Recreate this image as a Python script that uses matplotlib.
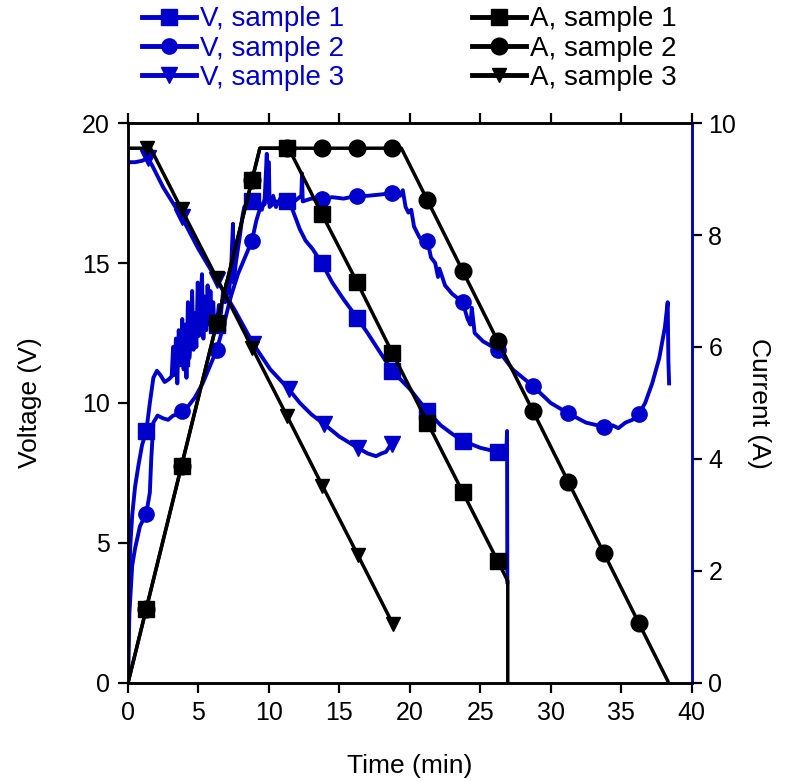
import matplotlib
matplotlib.use('Agg')
import matplotlib.pyplot as plt

plt.rcParams['font.family'] = ['Liberation Sans', 'DejaVu Sans']

BLUE = '#0000cd'

# voltage, sample 1 (squares)
v1_t = [0.0, 0.05, 0.15, 0.3, 0.5, 0.75, 1.0, 1.3, 1.55, 1.8, 2.05, 2.3, 2.6, 2.9, 3.1,
        3.2, 3.3, 3.4, 3.5, 3.6, 3.75, 3.85, 3.95, 4.05, 4.15, 4.25, 4.35, 4.45, 4.55,
        4.65, 4.75, 4.85, 4.95, 5.05, 5.15, 5.25, 5.35, 5.45, 5.55, 5.65, 5.75, 5.85,
        5.95, 6.05, 6.15, 6.3, 6.45, 6.6, 6.75, 6.9, 7.0, 7.15, 7.3, 7.45, 7.5, 7.65,
        7.8, 7.95, 8.1, 8.25, 8.4, 8.6, 8.8, 9.0, 9.3, 9.5, 9.7, 9.85, 9.9, 10.1, 10.3,
        10.5, 10.8, 11.0, 11.3, 11.6, 11.9, 12.2, 12.6, 13.1, 13.75, 14.5, 15.3, 16.25,
        17.0, 17.9, 18.75, 20.0, 21.25, 22.2, 23.0, 23.75, 25.0, 26.25, 26.85, 26.9, 26.92]
v1_v = [0.0, 2.5, 4.8, 6.0, 7.0, 7.8, 8.5, 9.0, 10.0, 10.9, 11.15, 11.0, 10.75, 10.85, 10.95,
        12.0, 11.0, 12.3, 10.7, 12.6, 11.6, 13.0, 11.2, 12.8, 10.9, 13.6, 11.6, 12.2, 14.0,
        11.9, 13.2, 12.0, 14.3, 12.4, 13.5, 14.6, 12.3, 13.8, 12.6, 14.2, 12.8, 14.0,
        13.0, 13.6, 12.5, 12.8, 13.5, 13.2, 14.0, 13.6, 14.3, 13.9, 14.6, 16.4, 14.3, 15.0,
        15.5, 16.0, 16.6, 17.0, 17.1, 17.2, 17.2, 17.1, 17.2, 16.9, 17.3, 18.9, 17.2, 17.1, 17.4,
        17.0, 17.3, 17.2, 17.2, 17.0, 16.6, 16.2, 15.8, 15.5, 15.0, 14.3, 13.7, 13.05,
        12.5, 11.8, 11.15, 10.5, 9.7, 9.2, 8.9, 8.65, 8.4, 8.25, 8.25, 9.0, 3.6]
v1_marks = [7, 20, 45, 62, 74, 80, 83, 86, 88, 91, 93]

# voltage, sample 2 (circles)
v2_t = [0.0, 0.1, 0.3, 0.5, 0.85, 1.3, 1.55, 1.65, 1.8, 2.1, 2.5, 2.85, 3.2, 3.55, 3.8,
        4.3, 4.75, 5.3, 5.8, 6.3, 6.8, 7.3, 7.8, 8.3, 8.8, 9.1, 9.4, 9.7, 10.0, 10.05,
        10.5, 11.0, 11.3, 11.8, 12.3, 12.35, 12.4, 13.0, 13.75, 14.5, 15.3, 16.25, 17.0,
        18.0, 18.75, 19.3, 19.5, 19.7, 19.9, 20.1, 20.3, 20.7, 21.25, 21.5, 21.8, 22.0,
        22.1, 22.5, 23.0, 23.75, 24.1, 24.3, 24.4, 24.6, 25.2, 26.25, 27.3, 28.75, 30.0,
        31.25, 32.5, 33.75, 34.4, 34.8, 35.3, 35.8, 36.25, 36.7, 37.2, 37.7, 38.1, 38.3,
        38.35, 38.4]
v2_v = [0.0, 2.5, 4.2, 4.8, 5.6, 6.05, 6.8, 8.0, 9.3, 9.55, 9.45, 9.4, 9.55, 9.6, 9.7,
        9.9, 10.2, 10.7, 11.3, 11.9, 12.8, 13.8, 14.6, 15.2, 15.8, 16.5, 17.0, 17.1, 18.6, 17.0,
        17.2, 17.1, 17.2, 17.2, 17.4, 18.2, 17.2, 17.3, 17.3, 17.35, 17.3, 17.4, 17.4,
        17.45, 17.5, 17.4, 17.6, 17.0, 16.8, 16.9, 16.3, 15.9, 15.8, 15.2, 15.0, 14.5,
        14.8, 14.2, 13.9, 13.6, 13.0, 12.8, 13.4, 12.5, 12.2, 11.9, 11.2, 10.6, 10.0,
        9.63, 9.3, 9.15, 9.2, 9.1, 9.3, 9.4, 9.6, 10.0, 10.7, 11.6, 12.7, 13.6,
        11.5, 10.7]
v2_marks = [5, 14, 19, 24, 38, 41, 44, 52, 59, 65, 67, 69, 71, 76]

# voltage, sample 3 (triangles)
v3_t = [0.0, 0.5, 1.0, 1.4, 1.7, 2.5, 3.8, 5.0, 6.3, 7.6, 8.9, 10.1, 11.4, 12.2, 13.0,
        13.9, 15.0, 16.3, 17.0, 17.6, 18.0, 18.3, 18.7, 19.1]
v3_v = [18.6, 18.6, 18.65, 18.75, 18.5, 17.7, 16.65, 15.5, 14.4, 13.3, 12.1, 11.2, 10.5, 10.0, 9.6,
        9.25, 8.8, 8.4, 8.2, 8.1, 8.2, 8.25, 8.55, 8.7]
v3_marks = [3, 6, 8, 10, 12, 15, 17, 22]

# current, sample 1 (squares)
a1_t = [0.0, 1.3, 3.8, 6.3, 8.8, 9.36, 11.3, 11.4, 13.75, 16.25, 18.75, 21.25, 23.75,
        26.25, 26.95, 26.95]
a1_a = [0.0, 1.33, 3.88, 6.43, 8.98, 9.55, 9.55, 9.55, 8.38, 7.16, 5.9, 4.65, 3.41,
        2.17, 1.82, 0.0]
a1_marks = [1, 2, 3, 4, 6, 8, 9, 10, 11, 12, 13]

# current, sample 2 (circles)
a2_t = [0.0, 1.3, 3.8, 6.3, 8.8, 9.36, 11.3, 13.75, 16.25, 18.75, 19.4, 21.25, 23.75,
        26.25, 28.75, 31.25, 33.75, 36.25, 38.3]
a2_a = [0.0, 1.33, 3.88, 6.43, 8.98, 9.55, 9.55, 9.55, 9.55, 9.55, 9.55, 8.62, 7.36,
        6.1, 4.85, 3.59, 2.33, 1.07, 0.04]
a2_marks = [1, 2, 3, 4, 6, 7, 8, 9, 11, 12, 13, 14, 15, 16, 17]

# current, sample 3 (triangles)
a3_t = [0.0, 1.35, 1.6, 3.8, 6.3, 8.8, 11.3, 13.8, 16.3, 18.8]
a3_a = [9.55, 9.55, 9.55, 8.46, 7.23, 5.99, 4.76, 3.52, 2.29, 1.05]
a3_marks = [1, 3, 4, 5, 6, 7, 8, 9]

labels = ['V, sample 1', 'V, sample 2', 'V, sample 3',
          'A, sample 1', 'A, sample 2', 'A, sample 3']

fig = plt.figure(figsize=(7.95, 7.81), dpi=100)
ax = fig.add_axes([0.161, 0.1255, 0.709, 0.717])
ax2 = ax.twinx()

h1, = ax.plot(v1_t, v1_v, color=BLUE, lw=2.8, marker='s', ms=11, markevery=v1_marks)
h2, = ax.plot(v2_t, v2_v, color=BLUE, lw=2.8, marker='o', ms=11, markevery=v2_marks)
h3, = ax.plot(v3_t, v3_v, color=BLUE, lw=2.8, marker='v', ms=11, markevery=v3_marks)

h5, = ax2.plot(a2_t, a2_a, color='k', lw=2.5, marker='o', ms=12, markevery=a2_marks)
h4, = ax2.plot(a1_t, a1_a, color='k', lw=2.5, marker='s', ms=12, markevery=a1_marks)
h6, = ax2.plot(a3_t, a3_a, color='k', lw=2.5, marker='v', ms=10, markevery=a3_marks)

ax.set_xlim(0, 40)
ax.set_ylim(0, 20)
ax2.set_ylim(0, 10)
ax.set_xticks(range(0, 41, 5))
ax.set_yticks(range(0, 21, 5))
ax2.set_yticks(range(0, 11, 2))

ax.tick_params(axis='both', direction='out', length=7, width=1.6, labelsize=18, pad=6,
               top=True)
ax2.tick_params(axis='y', direction='out', length=7, width=1.6, labelsize=18, pad=5)
for a in (ax, ax2):
    for s in a.spines.values():
        s.set_linewidth(1.8)
ax2.spines['right'].set_color(BLUE)

ax.set_xlabel('Time (min)', fontsize=19, labelpad=21)
ax.set_ylabel('Voltage (V)', fontsize=19, labelpad=29)
ax2.set_ylabel('Current (A)', fontsize=19, rotation=270, labelpad=25)

leg = fig.legend([h1, h2, h3, h4, h5, h6], labels, ncol=2, loc='upper left',
                 bbox_to_anchor=(0.178, 0.992), frameon=False, fontsize=20,
                 handlelength=1.95, handletextpad=0.15, labelspacing=0.12,
                 columnspacing=4.6, borderpad=0, borderaxespad=0)
for i, txt in enumerate(leg.get_texts()):
    txt.set_color(BLUE if i < 3 else 'k')
for ln in leg.get_lines():
    ln.set_linewidth(3.5)

fig.savefig('out.png', dpi=100)
